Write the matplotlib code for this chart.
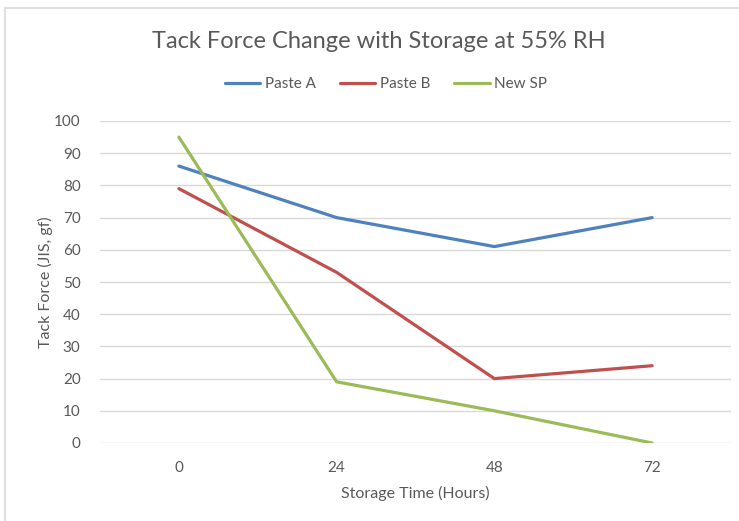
import matplotlib.pyplot as plt
from matplotlib.patches import Rectangle

hours = ["0", "24", "48", "72"]
paste_a = [86, 70, 61, 70]
paste_b = [79, 53, 20, 24]
new_sp = [95, 19, 10, 0]

series = [
    ("Paste A", paste_a, "#4f81bd"),
    ("Paste B", paste_b, "#c0504d"),
    ("New SP", new_sp, "#9bbb59"),
]

text_color = "#595959"
grid_color = "#d9d9d9"
plt.rcParams["font.family"] = ["Lato", "DejaVu Sans"]

fig = plt.figure(figsize=(7.39, 5.21), dpi=100)

# outer chart border (Excel-style chart area)
fig.patches.append(Rectangle((5 / 739, -0.1), 1.1, (521 - 8) / 521 + 0.1,
                             transform=fig.transFigure, fill=False,
                             edgecolor=grid_color, linewidth=1.2))

ax = fig.add_axes([100 / 739, 78 / 521, 631 / 739, 322 / 521])

x = range(len(hours))
for name, vals, color in series:
    ax.plot(x, vals, color=color, linewidth=2.3, label=name,
            solid_capstyle="round")

ax.set_xlim(-0.5, len(hours) - 0.5)
ax.set_ylim(0, 100)
ax.set_yticks(range(0, 101, 10))
ax.set_xticks(list(x))
ax.set_xticklabels(hours)
ax.yaxis.grid(True, color=grid_color, linewidth=1)
ax.set_axisbelow(True)
for s in ax.spines.values():
    s.set_visible(False)
ax.tick_params(length=0, colors=text_color, labelsize=11)
ax.tick_params(axis="y", pad=14)
ax.tick_params(axis="x", pad=13)

ax.set_xlabel("Storage Time (Hours)", color=text_color, fontsize=11.5, labelpad=8)
ax.set_ylabel("Tack Force (JIS, gf)", color=text_color, fontsize=11.5, labelpad=1)

fig.text(379 / 739, 1 - 42 / 521, "Tack Force Change with Storage at 55% RH",
         ha="center", va="center", color=text_color, fontsize=17)

leg = fig.legend(loc="center", bbox_to_anchor=(386 / 739, 1 - 84 / 521), ncol=3,
                 frameon=False, fontsize=11, handlelength=2.3,
                 handletextpad=0.3, columnspacing=1.6)
for t in leg.get_texts():
    t.set_color(text_color)

fig.savefig("out.png", dpi=100)
